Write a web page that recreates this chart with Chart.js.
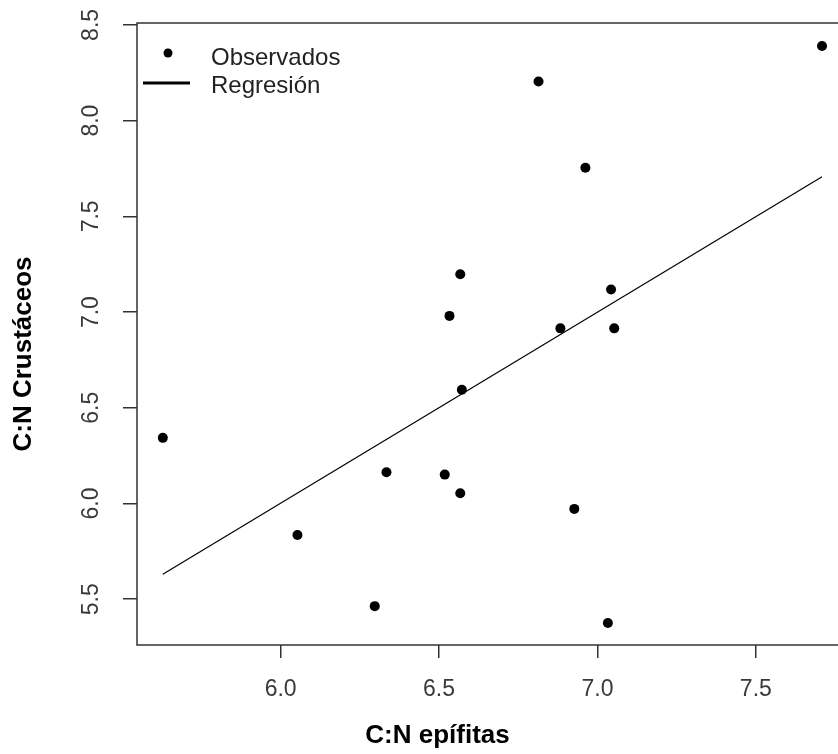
<!DOCTYPE html>
<html><head><meta charset="utf-8">
<script src="https://cdn.jsdelivr.net/npm/chart.js@4"></script>
<style>
html,body{margin:0;padding:0;overflow:hidden;background:#fff;width:838px;height:754px}
#wrap{width:860px;height:754px}
</style>
</head><body><div id="wrap"><canvas id="c" width="860" height="754"></canvas></div>
<script>
const obsX = [7.709, 6.814, 6.962, 6.567, 6.533, 7.043, 6.883, 7.053, 6.572, 6.518, 6.567, 6.927, 7.033, 5.628, 6.334, 6.053, 6.297];
const obsY = [8.390, 8.204, 7.754, 7.198, 6.980, 7.118, 6.915, 6.915, 6.594, 6.151, 6.054, 5.972, 5.376, 6.343, 6.163, 5.836, 5.464];
const regX = [5.628, 7.709];
const regY = [5.630, 7.707];
const xTicks = [6.0, 6.5, 7.0, 7.5];
const yTicks = [5.5, 6.0, 6.5, 7.0, 7.5, 8.0, 8.5];
const xTitle = 'C:N epífitas';
const yTitle = 'C:N Crustáceos';
const seriesNames = ['Observados', 'Regresión'];

const FONT = '"Liberation Sans", Arial, sans-serif';

const framePlugin = {
  id: 'frame',
  afterDraw(chart) {
    const {ctx, chartArea: a, scales: {x, y}} = chart;
    ctx.save();
    ctx.strokeStyle = '#333';
    ctx.lineWidth = 1.5;
    ctx.beginPath();
    ctx.moveTo(a.right + 10, a.top);
    ctx.lineTo(a.left, a.top);
    ctx.lineTo(a.left, a.bottom);
    ctx.lineTo(a.right + 10, a.bottom);
    ctx.stroke();
    ctx.fillStyle = '#3a3a3a';
    ctx.font = '23px ' + FONT;
    ctx.textAlign = 'center';
    ctx.textBaseline = 'middle';
    xTicks.forEach(v => ctx.fillText(v.toFixed(1), x.getPixelForValue(v), a.bottom + 45));
    yTicks.forEach(v => {
      ctx.save();
      ctx.translate(a.left - 45, y.getPixelForValue(v));
      ctx.rotate(-Math.PI / 2);
      ctx.fillText(v.toFixed(1), 0, 0);
      ctx.restore();
    });
    ctx.fillStyle = '#000';
    ctx.font = 'bold 26px ' + FONT;
    ctx.fillText(xTitle, 437.5, 736);
    ctx.save();
    ctx.translate(24, 354);
    ctx.rotate(-Math.PI / 2);
    ctx.fillText(yTitle, 0, 0);
    ctx.restore();
    const ds = chart.data.datasets;
    ctx.fillStyle = '#000';
    ctx.beginPath();
    ctx.arc(168, 53, 4.5, 0, Math.PI * 2);
    ctx.fill();
    ctx.strokeStyle = '#000';
    ctx.lineWidth = 3;
    ctx.beginPath();
    ctx.moveTo(143, 83);
    ctx.lineTo(190, 83);
    ctx.stroke();
    ctx.fillStyle = '#222';
    ctx.font = '24px ' + FONT;
    ctx.textAlign = 'left';
    ctx.textBaseline = 'alphabetic';
    ctx.fillText(ds[0].label, 211, 65);
    ctx.fillText(ds[1].label, 211, 93);
    ctx.restore();
  }
};

new Chart(document.getElementById('c'), {
  type: 'scatter',
  data: {
    datasets: [
      {
        label: seriesNames[0],
        data: obsX.map((v, i) => ({x: v, y: obsY[i]})),
        pointRadius: 5,
        pointBackgroundColor: '#000',
        pointBorderWidth: 0,
        showLine: false
      },
      {
        label: seriesNames[1],
        data: regX.map((v, i) => ({x: v, y: regY[i]})),
        showLine: true,
        pointRadius: 0,
        borderColor: '#000',
        borderWidth: 1.2
      }
    ]
  },
  options: {
    responsive: false,
    animation: false,
    devicePixelRatio: 1,
    layout: {padding: {top: 23, right: 8, left: 0, bottom: 0}},
    plugins: {legend: {display: false}, tooltip: {enabled: false}},
    scales: {
      x: {
        type: 'linear', min: 5.5465, max: 7.8036,
        afterBuildTicks: s => { s.ticks = xTicks.map(v => ({value: v})); },
        afterFit: s => { s.height = 109; },
        ticks: {display: false},
        grid: {drawOnChartArea: false, drawTicks: true, tickLength: 13, color: '#333', lineWidth: 1.5},
        border: {display: false}
      },
      y: {
        type: 'linear', min: 5.261, max: 8.510,
        afterBuildTicks: s => { s.ticks = yTicks.map(v => ({value: v})); },
        afterFit: s => { s.width = 137; },
        ticks: {display: false},
        grid: {drawOnChartArea: false, drawTicks: true, tickLength: 14, color: '#333', lineWidth: 1.5},
        border: {display: false}
      }
    }
  },
  plugins: [framePlugin]
});
</script>
</body></html>
